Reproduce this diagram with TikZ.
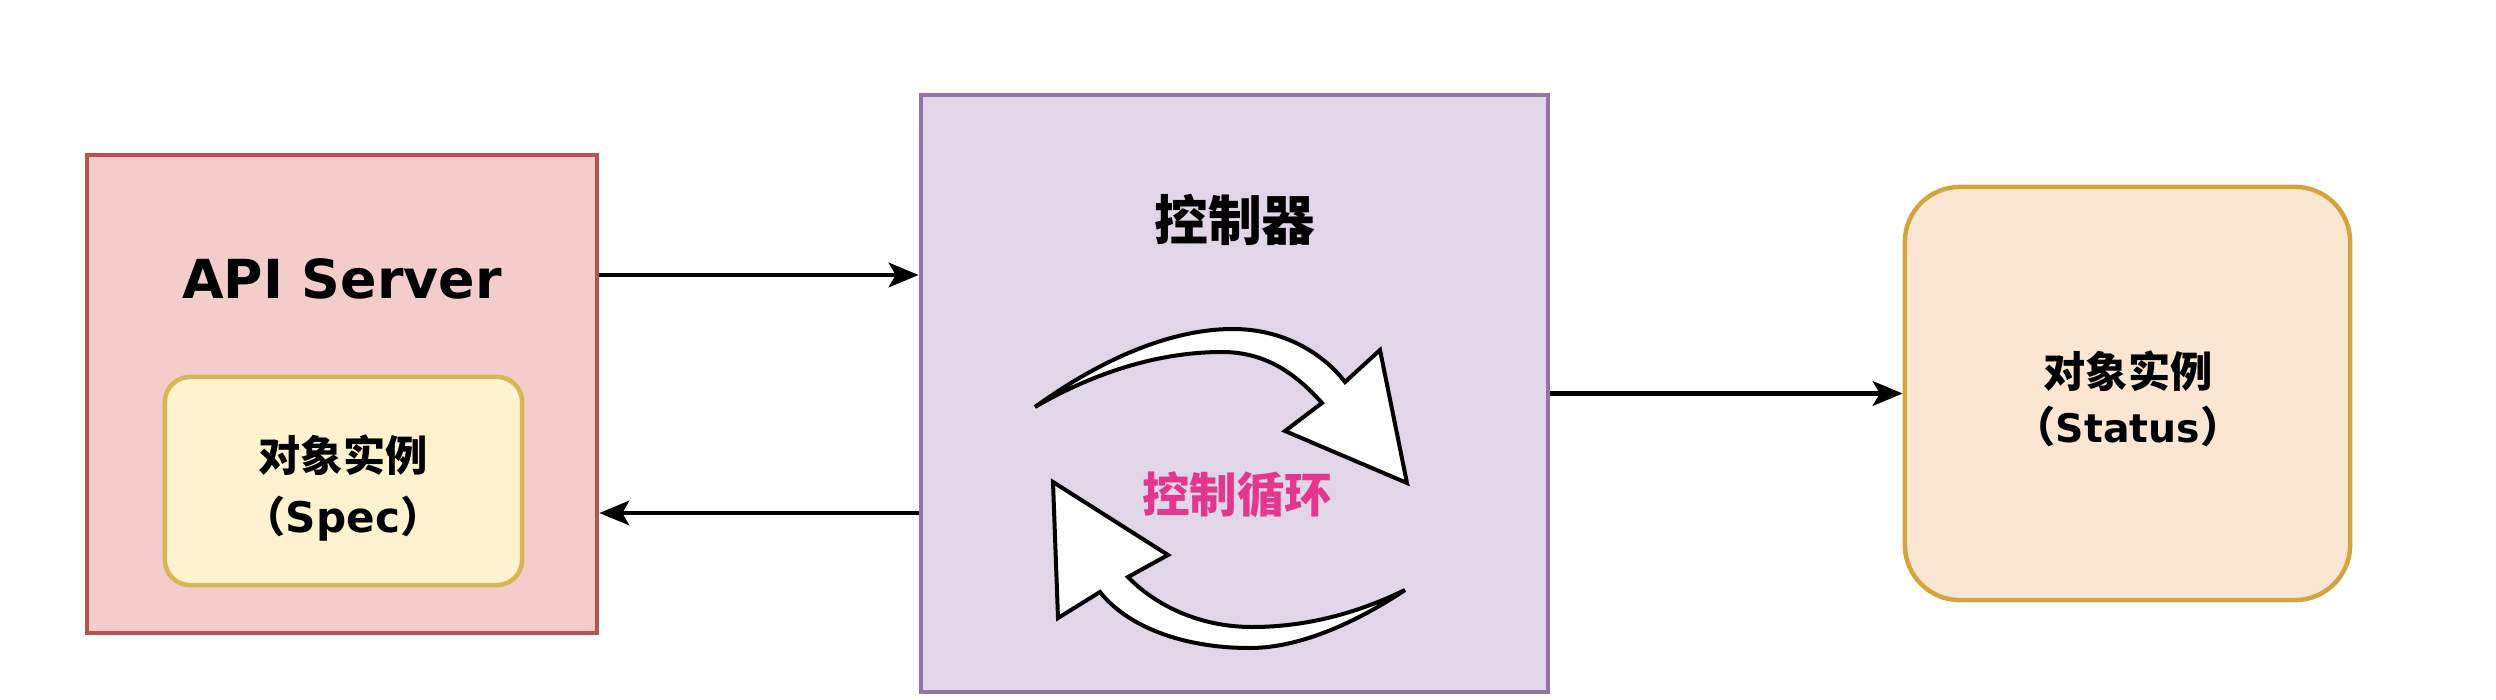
\documentclass[tikz,border=0pt]{standalone}
\usepackage{fontspec}
\setmainfont{DejaVu Sans}
\newfontfamily\cjk{Noto Sans CJK SC}
\usetikzlibrary{arrows.meta}
\definecolor{apifill}{HTML}{F2CDCC}
\definecolor{apiline}{HTML}{B85450}
\definecolor{specfill}{HTML}{FFF2CF}
\definecolor{specline}{HTML}{D6B656}
\definecolor{ctrlfill}{HTML}{E0D6E7}
\definecolor{ctrlline}{HTML}{9673A6}
\definecolor{statfill}{HTML}{FBE6D2}
\definecolor{statline}{HTML}{D4A43E}
\definecolor{loopcol}{HTML}{E2378C}
\begin{document}
\begin{tikzpicture}[x=0.01cm,y=-0.01cm,
  box/.style={draw, line width=0.045cm, inner sep=0pt},
  conn/.style={line width=0.042cm, -{Stealth[length=8.5pt,width=7pt,inset=2pt]}},
  looparrow/.style={draw=black, fill=white, line width=0.04cm, line join=miter},
  lab/.style={font=\bfseries, text=black, align=center, inner sep=0pt}]
\useasboundingbox (0,0) rectangle (2496,700);
\fill[white] (0,0) rectangle (2496,700);

% boxes
\node[box, draw=apiline, fill=apifill, minimum width=5.10cm, minimum height=4.78cm] (api) at (342,394) {};
\node[box, draw=specline, fill=specfill, rounded corners=0.25cm, minimum width=3.57cm, minimum height=2.08cm] (spec) at (343.5,481) {};
\node[box, draw=ctrlline, fill=ctrlfill, minimum width=6.27cm, minimum height=5.97cm] (ctrl) at (1234.5,393.5) {};
\node[box, draw=statline, fill=statfill, rounded corners=0.55cm, minimum width=4.45cm, minimum height=4.13cm] (status) at (2127.5,393.5) {};

% texts
\node[lab, font=\fontsize{15.3}{18}\selectfont\bfseries] (apitext) at (342,279) {API Server};
\node[lab, font=\fontsize{12}{17.5}\selectfont\bfseries] (spectext) at (343,488) {{\cjk 对象实例}\\{\cjk （}Spec{\cjk ）}};
\node[lab, font=\fontsize{15.3}{18}\selectfont\bfseries] (ctrltext) at (1235,220) {\cjk 控制器};
\node[lab, font=\fontsize{13.5}{16}\selectfont\bfseries, text=loopcol] (looptext) at (1237,495) {\cjk 控制循环};
\node[lab, font=\fontsize{12}{15.5}\selectfont\bfseries] (stattext) at (2128,399) {{\cjk 对象实例}\\{\cjk （}{\fontsize{11.2}{15.5}\selectfont Status}{\cjk ）}};

% connectors
\draw[conn] (api.east |- 0,275) -- (ctrl.west |- 0,275);
\draw[conn] (ctrl.west |- 0,513) -- (api.east |- 0,513);
\draw[conn] (ctrl.east) -- (status.west);

% control loop arrows
\path[looparrow] (1035,407) .. controls (1100,360) and (1170,329) .. (1233,329)
  .. controls (1282,329) and (1322,352) .. (1345,382)
  -- (1380,350) -- (1407,483) -- (1285,431) -- (1322,403)
  .. controls (1296,374) and (1266,352) .. (1222,352)
  .. controls (1155,352) and (1090,375) .. (1035,407) -- cycle;
\path[looparrow] (1405,590) .. controls (1360,620) and (1302,648) .. (1250,648)
  .. controls (1180,648) and (1126,625) .. (1100,592)
  -- (1058,618) -- (1053,482) -- (1168,555) -- (1128,577)
  .. controls (1154,604) and (1198,627) .. (1252,627)
  .. controls (1312,627) and (1364,610) .. (1405,590) -- cycle;
\end{tikzpicture}
\end{document}
